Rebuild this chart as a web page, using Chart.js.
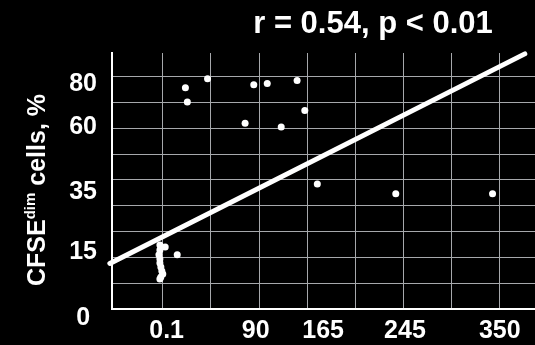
<!DOCTYPE html>
<html>
<head>
    <script src="https://cdn.jsdelivr.net/npm/chart.js"></script>
    <style>
        html, body {
            margin: 0;
            padding: 0;
            background-color: #000;
        }
        .container {
            width: 535px;
            height: 345px;
            position: relative;
        }
    </style>
</head>
<body>
    <div class="container"><canvas id="corrChart"></canvas></div>
    <script>
        // Values in grid units (one unit = one square of the background grid),
        // because the printed axis labels are not evenly spaced.
        const cellX = [1.48, 1.52, 1.94, 2.90, 3.18, 3.80, 3.96, 2.72, 3.47, 4.22, 5.85, 7.86,
                       0.95, 1.06, 0.95, 0.93, 0.95, 0.95, 0.97, 0.99, 1.01, 0.97, 0.95, 1.31];
        const cellY = [8.54, 7.99, 8.89, 8.66, 8.71, 8.82, 7.66, 7.17, 7.03, 4.83, 4.45, 4.45,
                       2.47, 2.39, 2.28, 2.09, 1.93, 1.78, 1.62, 1.47, 1.35, 1.24, 1.16, 2.09];

        // regression line end points
        const fitX = [-0.09, 8.53];
        const fitY = [1.76, 9.85];

        // printed tick labels and where they sit
        const xTickPos = [1.09, 2.94, 4.34, 6.04, 8.01];
        const xTickLabels = ['0.1', '90', '165', '245', '350'];
        const yTickPos = [8.70, 7.02, 4.52, 2.19, -0.36];
        const yTickLabels = ['80', '60', '35', '15', '0'];

        // background grid lines
        const gridCols = [1, 2, 3, 4, 5, 6, 7, 8];
        const gridRows = [1, 2, 3, 4, 5, 6, 7, 8, 9];

        const X_MIN = -0.045, X_MAX = 8.742;
        const Y_MIN = 0, Y_MAX = 9.884;

        const points = cellX.map((x, i) => ({ x: x, y: cellY[i] }));
        const fitLine = fitX.map((x, i) => ({ x: x, y: fitY[i] }));
        const FONT = '"Liberation Sans", Arial, sans-serif';

        // grid drawn from the scales before anything else
        const gridPlugin = {
            id: 'gridPlugin',
            beforeDraw(chart) {
                const c = chart.ctx;
                const a = chart.chartArea;
                const sx = chart.scales.x, sy = chart.scales.y;
                c.save();
                c.strokeStyle = '#a6a8ac';
                c.lineWidth = 1;
                c.beginPath();
                gridCols.forEach(v => {
                    const px = Math.round(sx.getPixelForValue(v)) + 0.5;
                    c.moveTo(px, a.top);
                    c.lineTo(px, a.bottom);
                });
                gridRows.forEach(v => {
                    const py = Math.round(sy.getPixelForValue(v)) + 0.5;
                    c.moveTo(a.left, py);
                    c.lineTo(a.right, py);
                });
                c.stroke();
                c.restore();
            }
        };

        // title and y axis title (with superscript) drawn on the canvas
        const textPlugin = {
            id: 'textPlugin',
            afterDraw(chart) {
                const c = chart.ctx;
                c.save();
                c.fillStyle = '#fff';
                c.textAlign = 'center';
                c.textBaseline = 'alphabetic';
                c.font = 'bold 31px ' + FONT;
                c.fillText('r = 0.54, p < 0.01', 373, 33);

                const big = 'bold 25px ' + FONT;
                const small = 'bold 15px ' + FONT;
                c.textAlign = 'left';
                c.font = big;
                const w1 = c.measureText('CFSE').width;
                const w3 = c.measureText(' cells, %').width;
                c.font = small;
                const w2 = c.measureText('dim').width;
                const total = w1 + w2 + w3;
                c.translate(45, 190 + total / 2);
                c.rotate(-Math.PI / 2);
                c.font = big;
                c.fillText('CFSE', 0, 0);
                c.font = small;
                c.fillText('dim', w1, -10);
                c.font = big;
                c.fillText(' cells, %', w1 + w2, 0);
                c.restore();
            }
        };

        const corrChart = new Chart(document.getElementById('corrChart'), {
            type: 'scatter',
            data: {
                datasets: [{
                    data: points,
                    backgroundColor: '#fff',
                    borderWidth: 0,
                    pointRadius: 3.5
                }, {
                    type: 'line',
                    data: fitLine,
                    borderColor: '#fff',
                    borderWidth: 5,
                    borderCapStyle: 'round',
                    pointRadius: 0,
                    fill: false,
                    clip: false
                }]
            },
            options: {
                animation: false,
                responsive: true,
                maintainAspectRatio: false,
                devicePixelRatio: 1,
                layout: { autoPadding: false, padding: { top: 53, left: 0, right: 0, bottom: 0 } },
                plugins: {
                    legend: { display: false },
                    tooltip: { enabled: false }
                },
                scales: {
                    x: {
                        type: 'linear', position: 'bottom', weight: 0, min: X_MIN, max: X_MAX,
                        afterBuildTicks: s => { s.ticks = gridCols.map(v => ({ value: v })); },
                        afterFit: s => { s.height = 0; },
                        ticks: { display: false },
                        grid: { display: false, drawTicks: false },
                        border: { color: '#fff', width: 2 }
                    },
                    xl: {
                        type: 'linear', axis: 'x', position: 'bottom', weight: 1, min: X_MIN, max: X_MAX,
                        afterBuildTicks: s => { s.ticks = xTickPos.map(v => ({ value: v })); },
                        afterFit: s => { s.height = 36; },
                        ticks: {
                            autoSkip: false, maxRotation: 0, padding: 7, color: '#fff',
                            font: { family: FONT, size: 25, weight: 'bold' },
                            callback: (v, i) => xTickLabels[i]
                        },
                        grid: { display: false, drawTicks: false },
                        border: { display: false }
                    },
                    y: {
                        type: 'linear', position: 'left', weight: 0, min: Y_MIN, max: Y_MAX,
                        afterBuildTicks: s => { s.ticks = gridRows.map(v => ({ value: v })); },
                        afterFit: s => { s.width = 0; },
                        ticks: { display: false },
                        grid: { display: false, drawTicks: false },
                        border: { color: '#fff', width: 2 }
                    },
                    yl: {
                        type: 'linear', axis: 'y', position: 'left', weight: 1, min: Y_MIN, max: Y_MAX,
                        afterBuildTicks: s => { s.ticks = yTickPos.map(v => ({ value: v })); },
                        afterFit: s => { s.width = 112; },
                        ticks: {
                            autoSkip: false, crossAlign: 'center', padding: 15, color: '#fff',
                            font: { family: FONT, size: 25, weight: 'bold' },
                            callback: (v, i) => yTickLabels[i]
                        },
                        grid: { display: false, drawTicks: false },
                        border: { display: false }
                    }
                }
            },
            plugins: [gridPlugin, textPlugin]
        });
    </script>
</body>
</html>
